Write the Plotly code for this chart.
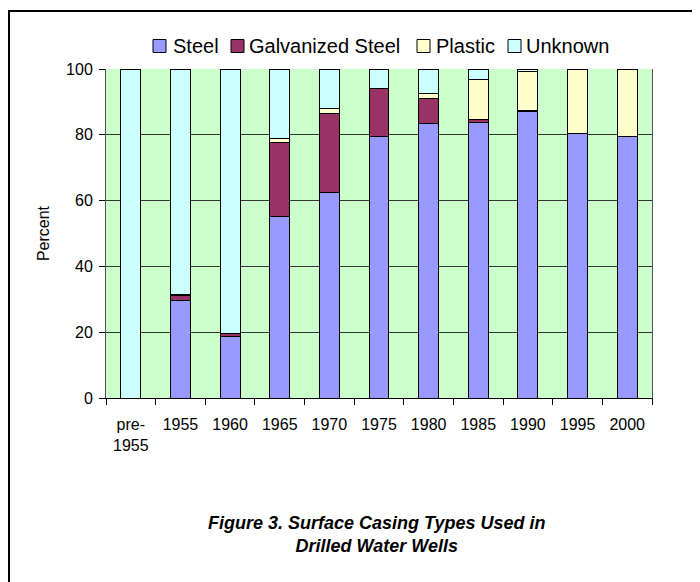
import plotly.graph_objects as go

categories = ["pre-<br>1955", "1955", "1960", "1965", "1970", "1975", "1980", "1985", "1990", "1995", "2000"]
steel = [0, 29.5, 18.8, 55.2, 62.5, 79.6, 83.3, 83.7, 87.0, 80.3, 79.6]
galvanized = [0, 1.8, 0.9, 22.6, 24.0, 14.5, 7.7, 0.9, 0.4, 0.0, 0.0]
plastic = [0, 0.2, 0.0, 1.0, 1.5, 0.0, 1.6, 12.1, 11.8, 19.7, 20.4]
unknown = [100, 68.5, 80.3, 21.2, 12.0, 5.9, 7.4, 3.3, 0.8, 0.0, 0.0]

series_names = ["Steel", "Galvanized Steel", "Plastic", "Unknown"]
series_values = [steel, galvanized, plastic, unknown]
series_colors = ["#9999FF", "#993366", "#FFFFCC", "#CCFFFF"]

FONT = "Liberation Sans, Arial, sans-serif"

fig = go.Figure()
for name, vals, color in zip(series_names, series_values, series_colors):
    fig.add_trace(go.Bar(
        x=categories, y=vals, name=name, showlegend=False,
        marker=dict(color=color, line=dict(color="black", width=1)),
    ))

# page geometry (page has an 8px body margin)
OFF = 8
FW, FH = 700, 582
L, R, T, B = 106, 652, 69, 398  # plot area in page pixels
W, H = R - L, B - T


def px(x):
    return (x - L) / W


def py(y):
    return (B - y) / H


# compact legend, like the original
legend_sq_x = [153, 231, 417, 508]
legend_tx_x = [171, 247, 434, 524]
SQ = 13
LEG_Y = 46
shapes = []
annotations = []
for name, color, sx, tx in zip(series_names, series_colors, legend_sq_x, legend_tx_x):
    shapes.append(dict(
        type="rect", xref="paper", yref="paper",
        x0=px(sx), x1=px(sx + SQ), y0=py(LEG_Y - SQ / 2), y1=py(LEG_Y + SQ / 2),
        line=dict(color="black", width=1), fillcolor=color,
    ))
    annotations.append(dict(
        text=name, xref="paper", yref="paper", x=px(tx), y=py(LEG_Y),
        xanchor="left", yanchor="middle", showarrow=False,
        font=dict(size=20, family=FONT, color="black"),
    ))

annotations.append(dict(
    text="<b><i>Figure 3. Surface Casing Types Used in<br>Drilled Water Wells</i></b>",
    xref="paper", yref="paper", x=px(376), y=py(534), xanchor="center",
    yanchor="middle", showarrow=False, font=dict(size=18, family=FONT, color="black"),
    align="center",
))

shapes.append(dict(
    type="rect", xref="paper", yref="paper",
    x0=px(OFF + 1), x1=px(720), y0=py(11), y1=py(620),
    line=dict(color="black", width=2), fillcolor="rgba(0,0,0,0)",
))

fig.update_layout(
    width=FW, height=FH,
    barmode="stack", bargap=0.6,
    paper_bgcolor="white", plot_bgcolor="#CCFFCC",
    margin=dict(l=L - OFF, r=FW - (R - OFF), t=T - OFF, b=FH - (B - OFF)),
    font=dict(family=FONT, size=16, color="black"),
    showlegend=False,
    xaxis=dict(
        type="category", tickson="boundaries", ticks="outside", ticklen=6,
        tickcolor="black", showgrid=False, showline=True, linecolor="black",
        linewidth=1, mirror=False, tickfont=dict(size=16), ticklabelstandoff=12,
    ),
    yaxis=dict(
        range=[0, 100], dtick=20, ticks="outside", ticklen=6, tickcolor="black",
        showgrid=True, gridcolor="#333333", gridwidth=1, showline=True,
        linecolor="#555555", mirror=True, zeroline=False, tickfont=dict(size=16),
        ticklabelstandoff=3,
        title=dict(text="Percent", font=dict(size=16), standoff=12),
    ),
    annotations=annotations,
    shapes=shapes,
)

fig.write_html("out.html")
